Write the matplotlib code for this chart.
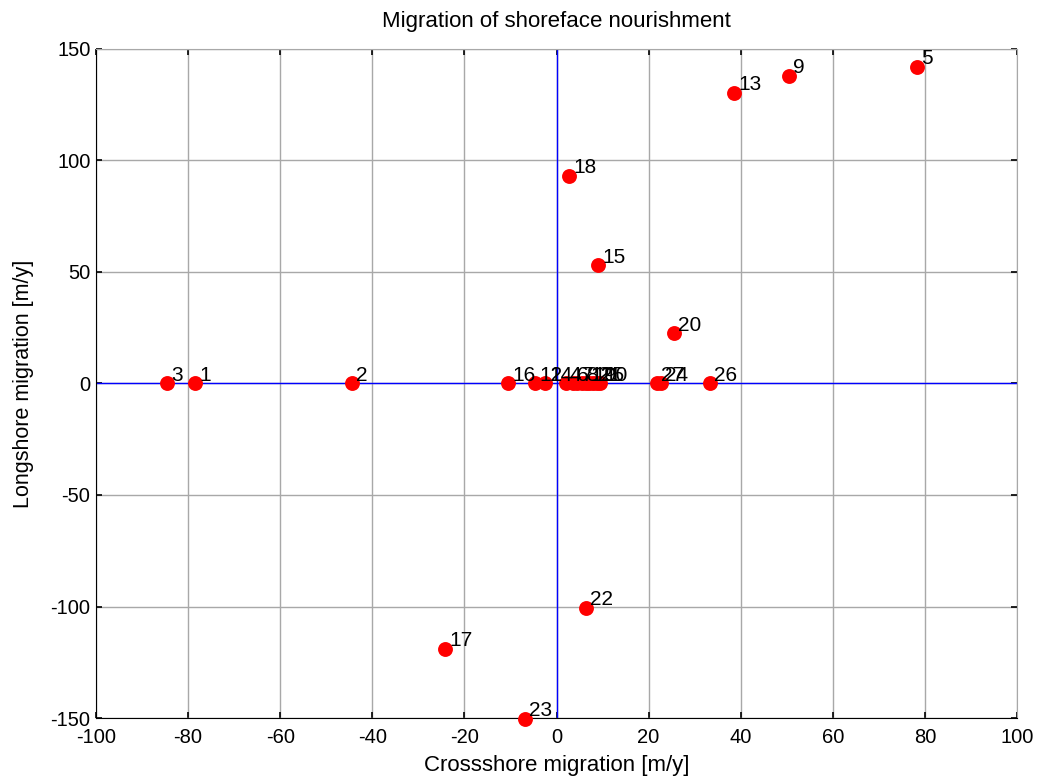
import matplotlib
matplotlib.use("Agg")
import matplotlib.pyplot as plt

# nourishment number, crossshore [m/y], longshore [m/y]
labels = ["1", "2", "3", "4", "5", "6", "7", "8", "9", "10", "11", "12", "13", "14",
          "15", "16", "17", "18", "19", "20", "21", "22", "23", "24", "25", "26", "27"]
cross = [-78.5, -44.4, -84.6, 2.0, 78.3, 3.5, 4.5, 5.5, 50.5, 9.5, 6.5, -4.7, 38.5, -2.5,
         9.0, -10.5, -24.2, 2.7, 7.0, 25.5, 8.0, 6.4, -6.8, 22.7, 8.8, 33.3, 21.8]
longs = [0, 0, 0, 0, 142.1, 0, 0, 0, 137.9, 0, 0, 0, 130.2, 0,
         53.0, 0, -119.0, 93.0, 0, 22.5, 0, -100.6, -150.5, 0, 0, 0, 0]

xticks = list(range(-100, 101, 20))
yticks = list(range(-150, 151, 50))

plt.rcParams["font.family"] = ["Liberation Sans", "DejaVu Sans"]
plt.rcParams["axes.unicode_minus"] = False

fig = plt.figure(figsize=(10.38, 7.8), dpi=100)
ax = fig.add_axes([96 / 1038, 1 - 718 / 780, 921 / 1038, 669 / 780])

ax.axhline(0, color="#0000ff", lw=1, zorder=2)
ax.axvline(0, color="#0000ff", lw=1, zorder=2)
ax.scatter(cross, longs, s=115, color="red", zorder=3, clip_on=False, linewidths=0)
for lab, x, y in zip(labels, cross, longs):
    ax.annotate(lab, (x, y), xytext=(3, 2), textcoords="offset points",
                ha="left", va="baseline", fontsize=15, zorder=4,
                annotation_clip=False)

ax.set_xlim(-100, 100)
ax.set_ylim(-150, 150)
ax.set_xticks(xticks)
ax.set_yticks(yticks)
ax.grid(True, color="#a8a8a8", lw=1)
ax.set_axisbelow(True)
ax.tick_params(direction="in", top=True, right=True, length=4, width=1.2,
               labelsize=14.5)
ax.tick_params(axis="x", pad=7)
ax.tick_params(axis="y", pad=4)
ax.spines["left"].set_color("black")
ax.spines["bottom"].set_color("black")
ax.spines["top"].set_color("#a8a8a8")
ax.spines["right"].set_color("#a8a8a8")

ax.set_title("Migration of shoreface nourishment", fontsize=16, pad=16)
ax.set_xlabel("Crossshore migration [m/y]", fontsize=16, labelpad=6)
ax.set_ylabel("Longshore migration [m/y]", fontsize=15.5, labelpad=12)

fig.savefig("out.png", dpi=100)
